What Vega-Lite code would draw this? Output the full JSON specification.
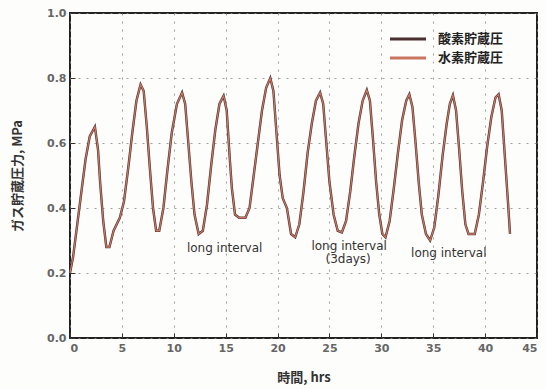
{
  "$schema": "https://vega.github.io/schema/vega-lite/v6.json",
  "width": 467,
  "height": 325,
  "autosize": {"type": "none"},
  "padding": {"left": 70, "top": 13, "right": 9, "bottom": 51},
  "background": "#fdfdfb",
  "config": {
    "view": {"stroke": "#222", "strokeWidth": 2},
    "font": "Noto Sans CJK JP",
    "axis": {
      "labelFont": "DejaVu Sans",
      "labelFontWeight": "bold",
      "labelColor": "#666",
      "labelFontSize": 11,
      "titleFont": "Noto Sans CJK JP",
      "titleFontWeight": "bold",
      "titleColor": "#333",
      "titleFontSize": 13,
      "domain": false,
      "tickColor": "#333",
      "tickSize": -5,
      "labelPadding": 9,
      "gridColor": "#888",
      "gridDash": [2, 6],
      "gridOpacity": 0.8
    }
  },
  "datasets": {
    "pressure": [
      {"t": 0.0, "p": 0.20}, {"t": 0.3, "p": 0.25}, {"t": 0.7, "p": 0.35}, {"t": 1.1, "p": 0.45},
      {"t": 1.5, "p": 0.55}, {"t": 1.9, "p": 0.62}, {"t": 2.4, "p": 0.65}, {"t": 2.7, "p": 0.58},
      {"t": 2.9, "p": 0.48}, {"t": 3.2, "p": 0.36}, {"t": 3.5, "p": 0.28}, {"t": 3.8, "p": 0.28},
      {"t": 4.2, "p": 0.33}, {"t": 4.8, "p": 0.37}, {"t": 5.2, "p": 0.42}, {"t": 5.6, "p": 0.52},
      {"t": 6.0, "p": 0.63}, {"t": 6.4, "p": 0.73}, {"t": 6.8, "p": 0.78}, {"t": 7.1, "p": 0.76},
      {"t": 7.4, "p": 0.65}, {"t": 7.7, "p": 0.52}, {"t": 8.0, "p": 0.40}, {"t": 8.3, "p": 0.33},
      {"t": 8.6, "p": 0.33}, {"t": 9.0, "p": 0.40}, {"t": 9.4, "p": 0.52}, {"t": 9.8, "p": 0.63},
      {"t": 10.3, "p": 0.72}, {"t": 10.8, "p": 0.755}, {"t": 11.1, "p": 0.72}, {"t": 11.4, "p": 0.60},
      {"t": 11.7, "p": 0.48}, {"t": 12.0, "p": 0.38}, {"t": 12.4, "p": 0.32}, {"t": 12.8, "p": 0.33},
      {"t": 13.2, "p": 0.41}, {"t": 13.6, "p": 0.53}, {"t": 14.0, "p": 0.64}, {"t": 14.4, "p": 0.72},
      {"t": 14.8, "p": 0.745}, {"t": 15.1, "p": 0.70}, {"t": 15.4, "p": 0.55}, {"t": 15.6, "p": 0.46},
      {"t": 15.9, "p": 0.38}, {"t": 16.3, "p": 0.37}, {"t": 16.9, "p": 0.37}, {"t": 17.3, "p": 0.40},
      {"t": 17.7, "p": 0.50}, {"t": 18.1, "p": 0.60}, {"t": 18.5, "p": 0.70}, {"t": 18.9, "p": 0.77},
      {"t": 19.3, "p": 0.80}, {"t": 19.6, "p": 0.76}, {"t": 19.9, "p": 0.63}, {"t": 20.2, "p": 0.50},
      {"t": 20.5, "p": 0.43}, {"t": 20.9, "p": 0.40}, {"t": 21.3, "p": 0.32}, {"t": 21.7, "p": 0.31},
      {"t": 22.1, "p": 0.35}, {"t": 22.5, "p": 0.45}, {"t": 22.9, "p": 0.57}, {"t": 23.3, "p": 0.66},
      {"t": 23.7, "p": 0.73}, {"t": 24.1, "p": 0.755}, {"t": 24.4, "p": 0.72}, {"t": 24.7, "p": 0.60},
      {"t": 25.0, "p": 0.48}, {"t": 25.4, "p": 0.38}, {"t": 25.8, "p": 0.33}, {"t": 26.2, "p": 0.325},
      {"t": 26.6, "p": 0.36}, {"t": 27.0, "p": 0.45}, {"t": 27.4, "p": 0.56}, {"t": 27.8, "p": 0.66},
      {"t": 28.2, "p": 0.73}, {"t": 28.6, "p": 0.763}, {"t": 28.9, "p": 0.73}, {"t": 29.2, "p": 0.61},
      {"t": 29.5, "p": 0.48}, {"t": 29.8, "p": 0.38}, {"t": 30.1, "p": 0.32}, {"t": 30.4, "p": 0.31},
      {"t": 30.8, "p": 0.36}, {"t": 31.2, "p": 0.46}, {"t": 31.6, "p": 0.57}, {"t": 32.0, "p": 0.67},
      {"t": 32.4, "p": 0.73}, {"t": 32.7, "p": 0.75}, {"t": 33.0, "p": 0.71}, {"t": 33.3, "p": 0.60},
      {"t": 33.6, "p": 0.48}, {"t": 33.9, "p": 0.38}, {"t": 34.3, "p": 0.32}, {"t": 34.7, "p": 0.30},
      {"t": 35.1, "p": 0.34}, {"t": 35.5, "p": 0.44}, {"t": 35.9, "p": 0.56}, {"t": 36.3, "p": 0.66},
      {"t": 36.6, "p": 0.72}, {"t": 36.9, "p": 0.747}, {"t": 37.2, "p": 0.70}, {"t": 37.5, "p": 0.58},
      {"t": 37.8, "p": 0.45}, {"t": 38.1, "p": 0.35}, {"t": 38.4, "p": 0.32}, {"t": 39.0, "p": 0.32},
      {"t": 39.4, "p": 0.38}, {"t": 39.8, "p": 0.48}, {"t": 40.2, "p": 0.59}, {"t": 40.6, "p": 0.68},
      {"t": 41.0, "p": 0.74}, {"t": 41.3, "p": 0.75}, {"t": 41.6, "p": 0.70}, {"t": 41.9, "p": 0.56},
      {"t": 42.2, "p": 0.42}, {"t": 42.4, "p": 0.32}
    ],
    "notes": [
      {"t": 14.9, "p": 0.278, "label": "long interval"},
      {"t": 26.9, "p": 0.282, "label": "long interval"},
      {"t": 26.8, "p": 0.242, "label": "(3days)"},
      {"t": 36.5, "p": 0.262, "label": "long interval"}
    ]
  },
  "layer": [
    {
      "data": {"name": "pressure"},
      "mark": {"type": "line", "strokeWidth": 2.4},
      "encoding": {
        "x": {"field": "t", "type": "quantitative", "scale": {"domain": [0, 45], "nice": false}, "axis": {"values": [0, 5, 10, 15, 20, 25, 30, 35, 40, 45], "title": "時間, hrs", "grid": true, "titlePadding": 18}},
        "y": {"field": "p", "type": "quantitative", "scale": {"domain": [0, 1], "nice": false}, "axis": {"values": [0, 0.2, 0.4, 0.6, 0.8, 1.0], "format": ".1f", "title": "ガス貯蔵圧力, MPa", "grid": true, "titlePadding": 22}},
        "color": {
          "datum": "酸素貯蔵圧",
          "type": "nominal",
          "scale": {"domain": ["酸素貯蔵圧", "水素貯蔵圧"], "range": ["#4a3030", "#c97560"]},
          "legend": {
            "orient": "none",
            "legendX": 318,
            "legendY": 17,
            "title": null,
            "symbolType": "stroke",
            "symbolSize": 1300,
            "symbolStrokeWidth": 3,
            "clipHeight": 18,
            "labelFont": "Noto Sans CJK JP",
            "labelFontWeight": "bold",
            "labelFontSize": 13,
            "labelColor": "#222",
            "rowPadding": 1,
            "labelOffset": 10
          }
        }
      }
    },
    {
      "data": {"name": "pressure"},
      "mark": {"type": "line", "strokeWidth": 1.3},
      "encoding": {
        "x": {"field": "t", "type": "quantitative"},
        "y": {"field": "p", "type": "quantitative"},
        "color": {"datum": "水素貯蔵圧", "type": "nominal"}
      }
    },
    {
      "data": {"name": "notes"},
      "mark": {"type": "text", "font": "DejaVu Sans", "fontSize": 12, "color": "#333", "align": "center", "baseline": "middle"},
      "encoding": {
        "x": {"field": "t", "type": "quantitative"},
        "y": {"field": "p", "type": "quantitative"},
        "text": {"field": "label"}
      }
    }
  ]
}
